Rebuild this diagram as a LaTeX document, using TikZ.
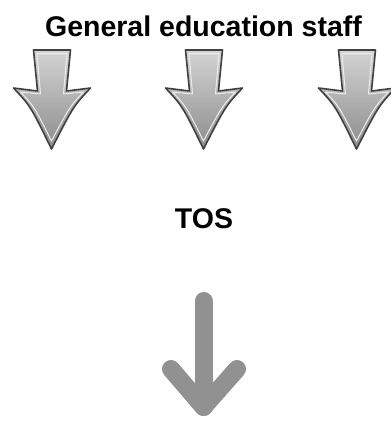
\documentclass[tikz,border=0pt]{standalone}
\usepackage{fontspec}
\setmainfont{Liberation Sans}
\definecolor{arrowdark}{RGB}{65,65,65}
\definecolor{arrowlight}{RGB}{212,212,212}
\definecolor{arrowmid}{RGB}{140,140,140}
\definecolor{chevgray}{RGB}{145,145,145}
\begin{document}
\begin{tikzpicture}[x=1pt,y=-1pt,
  label/.style={font=\bfseries\fontsize{28.5}{32}\selectfont, text=black, inner sep=0pt, anchor=base},
  blockarrow/.pic={
    \shade[top color=arrowlight, bottom color=arrowmid, draw=arrowdark, line width=1.6pt, line join=round]
      (-18,50) -- (19,50) -- (15,91) -- (39,88) .. controls (22,106) .. (0,149)
      .. controls (-21,106) .. (-38,88) -- (-14,91) -- cycle;
    \draw[white!85!gray, line width=1pt, line join=round]
      (-14.5,53.5) -- (15.5,53.5) -- (12,94) -- (32,92) .. controls (18,107) .. (0,141)
      .. controls (-17,107) .. (-31,92) -- (-11,94) -- cycle;
  },
  chevron/.style={draw=chevgray, line width=18pt, line cap=round, line join=round}
]
\useasboundingbox (0,0) rectangle (391,421);
\node[label] (title) at (203.5,36) {General education staff};
\pic at (51.5,0) {blockarrow};
\pic at (203.5,0) {blockarrow};
\pic at (356.5,0) {blockarrow};
\node[label] (tos) at (204,228) {TOS};
\coordinate (stemtop) at (203.5,301);
\coordinate (tip) at (203.5,407);
\coordinate (wl) at (171,369);
\coordinate (wr) at (237,369);
\draw[chevron] (stemtop) -- (tip);
\draw[chevron] (wl) -- (tip) -- (wr);
\end{tikzpicture}
\end{document}
